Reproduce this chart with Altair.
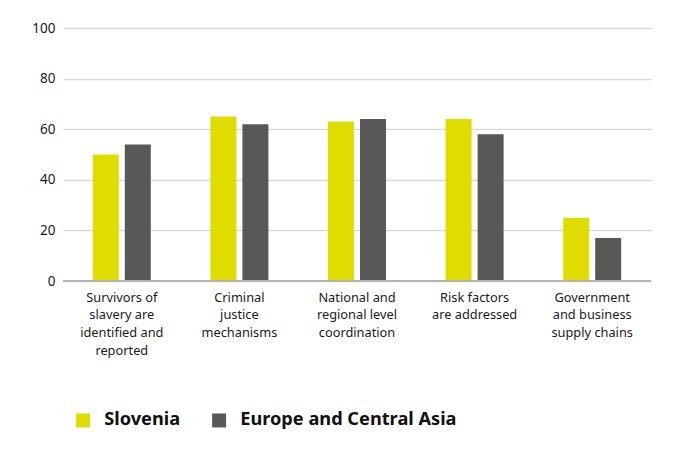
import altair as alt
import pandas as pd

categories = [
    "Survivors of|slavery are|identified and|reported",
    "Criminal|justice|mechanisms",
    "National and|regional level|coordination",
    "Risk factors|are addressed",
    "Government|and business|supply chains",
]
series = ["Slovenia", "Europe and Central Asia"]
slovenia = [50, 65, 63, 64, 25]
europe = [54, 62, 64, 58, 17]
colors = ["#dfdc00", "#585856"]

rows = []
for c, s, e in zip(categories, slovenia, europe):
    rows.append({"category": c, "series": series[0], "value": s})
    rows.append({"category": c, "series": series[1], "value": e})
df = pd.DataFrame(rows)

FONT = "Noto Sans"

bars = alt.Chart(df).mark_bar().encode(
    x=alt.X("category:N", sort=categories, title=None,
            scale=alt.Scale(paddingInner=0.507, paddingOuter=0.2535),
            axis=alt.Axis(labelExpr="split(datum.label, '|')", labelAngle=0,
                          labelFont=FONT, labelFontSize=12.8, labelColor="#1a1a1a",
                          labelLineHeight=17.7, labelPadding=10, ticks=False,
                          domain=False, grid=False, labelBaseline="top")),
    xOffset=alt.XOffset("series:N", sort=series,
                        scale=alt.Scale(paddingInner=0.1875, paddingOuter=0)),
    y=alt.Y("value:Q", title=None,
            scale=alt.Scale(domain=[0, 100], nice=False),
            axis=alt.Axis(values=[0, 20, 40, 60, 80, 100], labelFont=FONT,
                          labelFontSize=13.5, labelColor="#1a1a1a", labelPadding=8,
                          ticks=False, domain=False, gridColor="#d9d9d9",
                          gridWidth=1.3)),
    color=alt.Color("series:N", sort=series,
                    scale=alt.Scale(domain=series, range=colors),
                    legend=alt.Legend(title=None, orient="none", direction="horizontal",
                                      legendX=11, legendY=383,
                                      symbolType="square", symbolSize=196,
                                      symbolStrokeWidth=0, symbolOpacity=1,
                                      labelFont=FONT, labelFontSize=18.2,
                                      labelFontWeight="bold", labelColor="#111111",
                                      labelLimit=400,
                                      labelOffset=12, columnPadding=29)),
)

zero = alt.Chart(pd.DataFrame({"y": [0]})).mark_rule(color="#b3b3b3", strokeWidth=2).encode(
    y="y:Q"
)

chart = alt.layer(bars, zero).properties(
    width=588, height=253,
    autosize=alt.AutoSizeParams(type="none"),
    padding={"left": 55, "top": 20, "right": 36, "bottom": 163},
    background="white",
).configure_view(stroke=None)

chart.save("out.html", embed_options={"renderer": "svg", "actions": False})
